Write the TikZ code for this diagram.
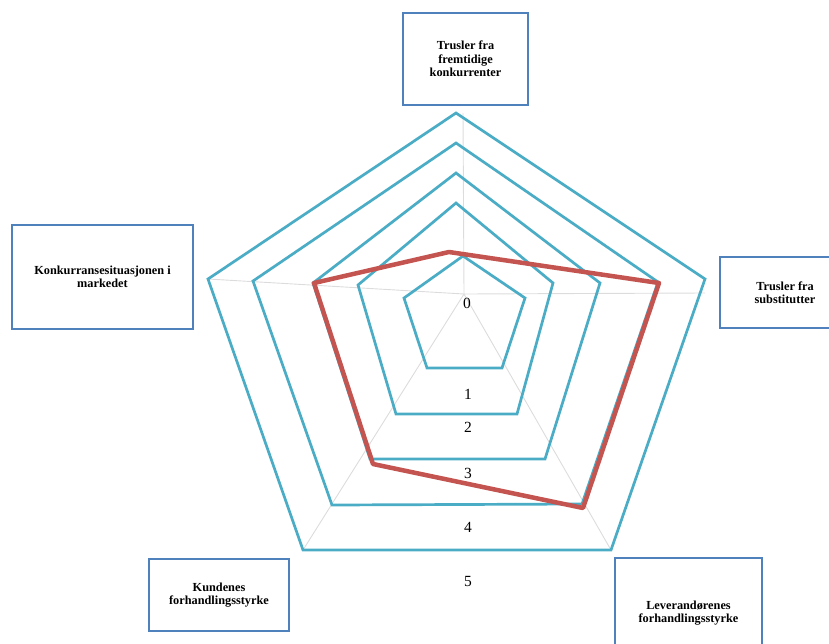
\documentclass[tikz,border=0pt]{standalone}
\usepackage{fontspec}
\setmainfont{Liberation Serif}
\definecolor{ring}{RGB}{75,172,198}
\definecolor{series}{RGB}{196,84,80}
\definecolor{boxblue}{RGB}{79,129,189}
\definecolor{axisgray}{RGB}{220,220,220}
\begin{document}
\begin{tikzpicture}[x=1pt,y=-1pt,
  ringline/.style={draw=ring,line width=2.7pt,line join=miter},
  axisline/.style={draw=axisgray,line width=0.9pt},
  seriesline/.style={draw=series,line width=4.5pt,line join=round},
  labelbox/.style={draw=boxblue,line width=2.6pt,fill=white,align=center,inner sep=0pt,
    font=\bfseries\fontsize{12.3}{13.5}\selectfont},
  levellabel/.style={inner sep=0pt,font=\fontsize{15.5}{15.5}\selectfont}]
\useasboundingbox (0,0) rectangle (829,643);
\clip (0,0) rectangle (829,643);
% axes
\coordinate (c) at (464,294);
\draw[axisline] (c) -- (463,113);
\draw[axisline] (c) -- (208,279);
\draw[axisline] (c) -- (705,293);
\draw[axisline] (c) -- (303,550);
\draw[axisline] (c) -- (611,550);
% rings
\draw[ringline] (456,113) -- (705,279) -- (611,550) -- (303,550) -- (208,279) -- cycle;
\draw[ringline] (456,143) -- (658,282) -- (582,504) -- (332,505) -- (253,281) -- cycle;
\draw[ringline] (456,173) -- (600,283) -- (545,459) -- (370,459) -- (313,283) -- cycle;
\draw[ringline] (456,203) -- (553,283) -- (517,414) -- (396,414) -- (358,285) -- cycle;
\draw[ringline] (463,256) -- (525,298) -- (502,368) -- (427,368) -- (404,298) -- cycle;
% series
\draw[seriesline] (449,252) -- (659,283) -- (583,508) -- (373,464) -- (314,283) -- cycle;
% level labels
\node[levellabel] (l0) at (467,303) {0};
\node[levellabel] (l1) at (468,394) {1};
\node[levellabel] (l2) at (468,427) {2};
\node[levellabel] (l3) at (468,473) {3};
\node[levellabel] (l4) at (468,527) {4};
\node[levellabel] (l5) at (468,581) {5};
% boxes
\node[labelbox,minimum width=125pt,minimum height=92pt] (top) at (465.5,59) {Trusler fra\\fremtidige\\konkurrenter};
\node[labelbox,minimum width=181pt,minimum height=104pt] (left) at (102.5,277) {Konkurransesituasjonen i\\markedet};
\node[labelbox,minimum width=130pt,minimum height=71pt] (right) at (785,292.5) {Trusler fra\\substitutter};
\node[labelbox,minimum width=140pt,minimum height=72pt] (kund) at (219,595) {Kundenes\\forhandlingsstyrke};
\node[labelbox,minimum width=147pt,minimum height=110pt] (lev) at (688.5,613) {Leverandørenes\\forhandlingsstyrke};
\end{tikzpicture}
\end{document}
